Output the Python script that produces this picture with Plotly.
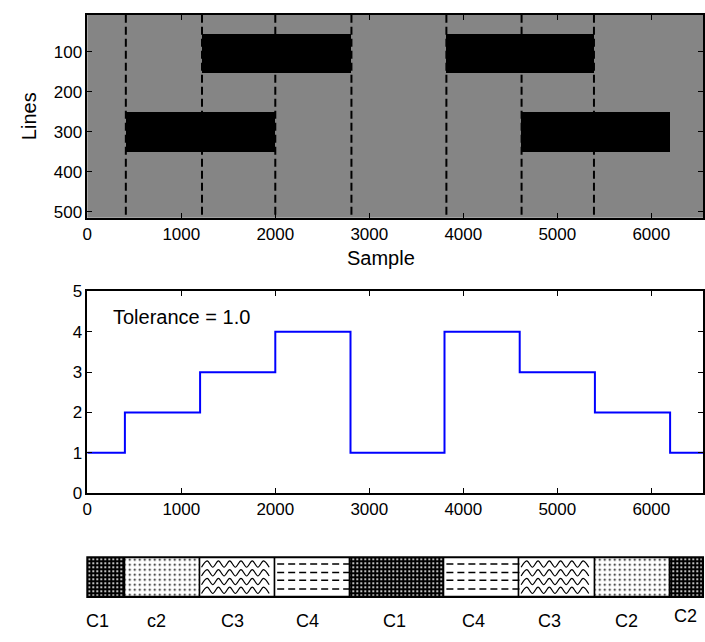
import numpy as np
import plotly.graph_objects as go

# ---------------- data ----------------
# segment boundaries (samples) and class per segment
seg_edges = [0, 400, 1200, 2000, 2800, 3800, 4600, 5400, 6200, 6550]
seg_class = [1, 2, 3, 4, 1, 4, 3, 2, 1]
seg_labels = ["C1", "c2", "C3", "C4", "C1", "C4", "C3", "C2", "C2"]
label_x = [105, 740, 1550, 2340, 3270, 4110, 4920, 5740, 6360]

# image panel: black blocks (start sample, end sample, first line, last line)
block_x0 = [1220, 410, 3820, 4620]
block_x1 = [2810, 2005, 5390, 6200]
block_y0 = [55, 250, 55, 250]
block_y1 = [153, 351, 153, 351]
dash_x = [410, 1220, 2000, 2810, 3820, 4620, 5390]

x_ticks = [0, 1000, 2000, 3000, 4000, 5000, 6000]
line_ticks = [100, 200, 300, 400, 500]
class_ticks = [0, 1, 2, 3, 4, 5]

W, H = 705, 642
X0, X1 = 83, 704
XMAX = 6550
FONT = "Liberation Sans"

def ydom(top, bot):
    return [1 - bot / H, 1 - top / H]

fig = go.Figure()

# ---------- top panel ----------
for x0, x1, y0, y1 in zip(block_x0, block_x1, block_y0, block_y1):
    fig.add_trace(go.Bar(
        x=[x1 - x0], base=[x0], y=[(y0 + y1) / 2], width=[y1 - y0],
        orientation="h", marker=dict(color="black", line=dict(width=0)),
        xaxis="x", yaxis="y", showlegend=False, hoverinfo="skip"))
for dx in dash_x:
    fig.add_trace(go.Scatter(
        x=[dx, dx], y=[8, 515], mode="lines",
        line=dict(color="black", width=2, dash="8px,4px"),
        xaxis="x", yaxis="y", showlegend=False, hoverinfo="skip"))

# ---------- middle panel: step line ----------
step_x = seg_edges
step_y = seg_class + [seg_class[-1]]
fig.add_trace(go.Scatter(
    x=step_x, y=step_y, mode="lines", line_shape="hv",
    line=dict(color="#0000ff", width=2),
    xaxis="x2", yaxis="y2", showlegend=False, hoverinfo="skip"))

# ---------- bottom strip ----------
patterns = {
    1: dict(shape=".", bgcolor="black", fgcolor="white", size=4, solidity=0.2),
    2: dict(shape=".", bgcolor="white", fgcolor="black", size=5, solidity=0.12),
    3: dict(shape="", bgcolor="white", fgcolor="black"),
    4: dict(shape="", bgcolor="white", fgcolor="black"),
}
for a, b, c in zip(seg_edges[:-1], seg_edges[1:], seg_class):
    p = patterns[c]
    fig.add_trace(go.Bar(
        x=[b - a], base=[a], y=[0.5], width=[1], orientation="h",
        marker=dict(color=p["bgcolor"], line=dict(color="black", width=1.5),
                    pattern=dict(**p, fillmode="replace")),
        xaxis="x3", yaxis="y3", showlegend=False, hoverinfo="skip"))
    if c == 3:
        # wavy decoration
        for yr in [0.17, 0.39, 0.61, 0.83]:
            xs = np.arange(a + 15, b - 10, 60.0)
            ys = [yr + (0.08 if i % 2 else -0.08) for i in range(len(xs))]
            fig.add_trace(go.Scatter(
                x=xs, y=ys, mode="lines", line_shape="spline",
                line=dict(color="black", width=1.2),
                xaxis="x3", yaxis="y3", showlegend=False, hoverinfo="skip"))
    if c == 4:
        for yr in [0.2, 0.42, 0.62, 0.83]:
            fig.add_trace(go.Scatter(
                x=[a + 20, b], y=[yr, yr], mode="lines",
                line=dict(color="black", width=1.5, dash="7px,4px"),
                xaxis="x3", yaxis="y3", showlegend=False, hoverinfo="skip"))

# labels below strip
annotations = []
for i, (lx, lab) in enumerate(zip(label_x, seg_labels)):
    annotations.append(dict(
        x=lx, y=(1 - 631 / H) if i < len(seg_labels) - 1 else (1 - 625 / H),
        xref="x3", yref="paper", text=lab, showarrow=False,
        font=dict(size=18, color="black", family=FONT),
        xanchor="center", yanchor="middle"))
annotations.append(dict(
    x=0.038, y=0.875, xref="x2 domain", yref="y2 domain", text="Tolerance = 1.0",
    showarrow=False, xanchor="left", yanchor="middle",
    font=dict(size=20, color="black", family=FONT)))
annotations.append(dict(
    x=379 / W, y=1 - 257 / H, xref="paper", yref="paper", text="Sample",
    showarrow=False, xanchor="center", yanchor="middle",
    font=dict(size=20, color="black", family=FONT)))

axis_common = dict(
    showline=True, linecolor="black", linewidth=1.5, mirror="ticks",
    ticks="inside", ticklen=5, tickwidth=1.2, tickcolor="black",
    showgrid=False, zeroline=False,
    tickfont=dict(size=17, color="black", family=FONT))

fig.update_layout(
    width=W, height=H, margin=dict(l=0, r=0, t=0, b=0),
    paper_bgcolor="white", plot_bgcolor="white",
    barmode="overlay", bargap=0,
    annotations=annotations,
    xaxis=dict(domain=[X0 / W, X1 / W], range=[0, XMAX], tickvals=x_ticks,
               anchor="y", **axis_common),
    yaxis=dict(domain=ydom(6, 215), range=[515, 8], tickvals=line_ticks,
               anchor="x", title=dict(text="Lines", standoff=12,
                                       font=dict(size=20, color="black", family=FONT)),
               **axis_common),
    xaxis2=dict(domain=[X0 / W, X1 / W], range=[0, XMAX], tickvals=x_ticks,
                anchor="y2", **axis_common),
    yaxis2=dict(domain=ydom(291, 499), range=[0, 5], tickvals=class_ticks,
                anchor="x2", **axis_common),
    xaxis3=dict(domain=[X0 / W, X1 / W], range=[0, XMAX], visible=False, anchor="y3"),
    yaxis3=dict(domain=ydom(565, 606), range=[0, 1], visible=False, anchor="x3"),
)

# gray image background for the top panel
fig.add_shape(type="rect", xref="x domain", yref="y domain", x0=0, x1=1, y0=0, y1=1,
              fillcolor="#858585", line=dict(width=0), layer="below")
# outline of the class strip
fig.add_shape(type="rect", xref="x3 domain", yref="y3 domain", x0=0, x1=1, y0=0, y1=1,
              fillcolor="rgba(0,0,0,0)", line=dict(color="black", width=2), layer="above")

fig.write_html("out.html", post_script="document.body.style.margin='0';")
